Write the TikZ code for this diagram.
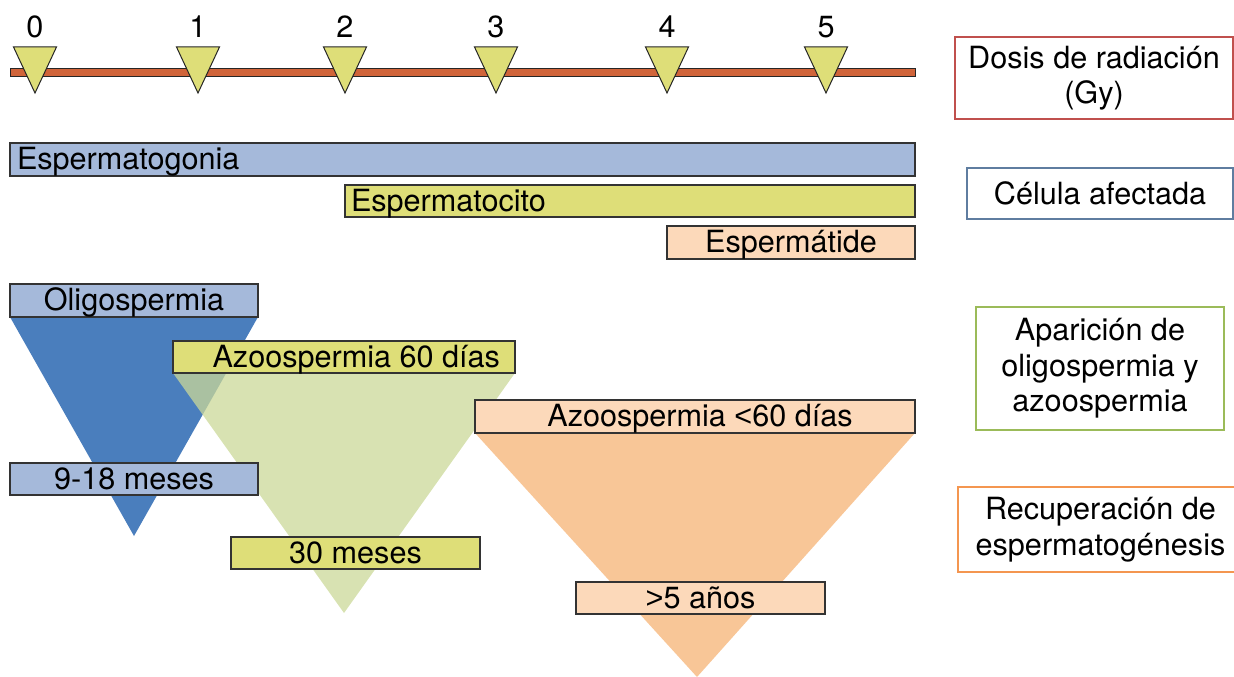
\documentclass[tikz,border=0pt]{standalone}
\usepackage{fontspec}
\usetikzlibrary{calc}
\setmainfont{TeX Gyre Heros}
\newfontfamily\ltfont{Liberation Sans}
\definecolor{barred}{RGB}{208,100,58}
\definecolor{markyel}{RGB}{222,222,120}
\definecolor{boxblue}{RGB}{165,185,218}
\definecolor{boxyel}{RGB}{222,222,120}
\definecolor{boxora}{RGB}{252,217,186}
\definecolor{triblue}{RGB}{74,126,189}
\definecolor{trigreen}{RGB}{203,216,152}
\definecolor{triora}{RGB}{248,198,151}
\definecolor{legred}{RGB}{192,80,77}
\definecolor{legblue}{RGB}{95,125,160}
\definecolor{leggreen}{RGB}{155,187,89}
\definecolor{legora}{RGB}{244,150,80}
\newcommand\lblfont{\fontsize{30.6}{35.5}\selectfont}
\begin{document}
\begin{tikzpicture}[x=1pt,y=-1pt,
  bar/.style={draw=black!80,line width=1.2pt,anchor=north west,inner sep=0pt,outer sep=0pt,
    text height=22pt,text depth=2pt,font=\lblfont},
  marker/.style={draw=black!85,line width=1pt,fill=markyel,line join=miter},
  ticklbl/.style={font=\lblfont,inner sep=0pt},
  legend/.style={draw=#1,line width=2.5pt,fill=white,anchor=north west,inner sep=0pt,outer sep=0pt,
    align=center,font=\lblfont}]
\useasboundingbox (0,0) rectangle (1234,677);

% dose axis
\node[draw=black!85,line width=1pt,fill=barred,anchor=north west,inner sep=0pt,outer sep=0pt,
  minimum width=905pt,minimum height=8pt] (axis) at (10,69) {};
\foreach \x/\d in {35/0,198/1,345/2,496/3,667/4,826/5}{
  \coordinate (m\d) at (\x,93);
  \draw[marker] ($(m\d)+(-21.5,-46)$) -- ($(m\d)+(21.5,-46)$) -- (m\d) -- cycle;
  \node[ticklbl] (t\d) at (\x,27) {\d};
}

% affected cells
\node[bar,fill=boxblue,minimum height=33pt] (sgonia) at (10,143)
  {\makebox[905pt][l]{\hspace{7pt}Espermatogonia}};
\node[bar,fill=boxyel,minimum height=32pt] (scito) at (345,185)
  {\makebox[570pt][l]{\hspace{6pt}Espermatocito}};
\node[bar,fill=boxora,minimum height=33pt,minimum width=248pt] (stide) at (667,226) {Espermátide};

% triangles and labels
\fill[triblue] (10,317) -- (258,317) -- (134,536) -- cycle;
\node[bar,fill=boxblue,minimum height=33pt,minimum width=248pt] (oligo) at (10,284) {Oligospermia};
\fill[trigreen,opacity=0.75] (173,373) -- (515,373) -- (344,613) -- cycle;
\node[bar,fill=boxyel,minimum height=32pt] (azoa) at (173,341)
  {\makebox[342pt][r]{Azoospermia 60 días\hspace{15pt}}};
\node[bar,fill=boxblue,minimum height=32pt,minimum width=248pt] (rblue) at (10,463) {9-18 meses};
\fill[triora] (475,433) -- (915,433) -- (697,677) -- cycle;
\node[bar,fill=boxora,minimum height=33pt,minimum width=440pt] (azob) at (475,400)
  {\hspace{10pt}Azoospermia {\ltfont<}60 días};
\node[bar,fill=boxyel,minimum height=32pt,minimum width=249pt] (rgreen) at (231,537) {30 meses};
\node[bar,fill=boxora,minimum height=32pt,minimum width=249pt] (rora) at (576,582) {{\ltfont>}5 años};

% legend
\node[legend=legred,minimum width=278pt,minimum height=82pt] (ldose) at (955,37)
  {Dosis de radiación\\(Gy)};
\node[legend=legblue,minimum width=266pt,minimum height=51pt] (lcell) at (967,168)
  {Célula afectada};
\node[legend=leggreen,minimum width=248pt,minimum height=123pt] (lapp) at (976,307)
  {Aparición de\\oligospermia y\\azoospermia};
\node[legend=legora,minimum width=285pt,minimum height=85pt] (lrec) at (958,487)
  {Recuperación de\\espermatogénesis};
\end{tikzpicture}
\end{document}
